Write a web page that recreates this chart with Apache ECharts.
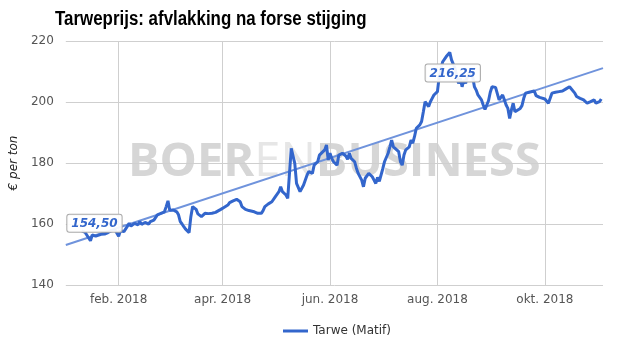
<!DOCTYPE html>
<html><head><meta charset="utf-8">
<script src="https://cdn.jsdelivr.net/npm/echarts@6/dist/echarts.min.js"></script>
<style>html,body{margin:0;padding:0;background:#fff}#c{width:625px;height:355px}</style>
</head><body><div id="c"></div>
<script>
const dates = ['2018-01-11','2018-01-13','2018-01-16','2018-01-17','2018-01-19','2018-01-22','2018-01-24','2018-01-26','2018-01-28','2018-01-30','2018-01-31',
'2018-02-01','2018-02-02','2018-02-04','2018-02-05','2018-02-07','2018-02-08','2018-02-10','2018-02-12','2018-02-13','2018-02-14','2018-02-16','2018-02-18','2018-02-19','2018-02-21','2018-02-23','2018-02-25','2018-02-27','2018-02-28',
'2018-03-01','2018-03-02','2018-03-03','2018-03-04','2018-03-06','2018-03-07','2018-03-08','2018-03-09','2018-03-10','2018-03-11','2018-03-13','2018-03-14','2018-03-15','2018-03-17','2018-03-18','2018-03-20','2018-03-22','2018-03-24','2018-03-26','2018-03-28','2018-03-29','2018-03-31',
'2018-04-02','2018-04-04','2018-04-05','2018-04-07','2018-04-09','2018-04-11','2018-04-12','2018-04-14','2018-04-16','2018-04-17','2018-04-19','2018-04-21','2018-04-23','2018-04-24','2018-04-25','2018-04-27','2018-04-29',
'2018-05-01','2018-05-03','2018-05-04','2018-05-05','2018-05-07','2018-05-08','2018-05-09','2018-05-10','2018-05-12','2018-05-13','2018-05-15','2018-05-16','2018-05-17','2018-05-19','2018-05-20','2018-05-22','2018-05-23','2018-05-25','2018-05-26','2018-05-27','2018-05-29','2018-05-30','2018-05-31',
'2018-06-01','2018-06-02','2018-06-03','2018-06-05','2018-06-06','2018-06-08','2018-06-10','2018-06-11','2018-06-12','2018-06-13','2018-06-15','2018-06-16','2018-06-17','2018-06-19','2018-06-20','2018-06-21','2018-06-23','2018-06-25','2018-06-26','2018-06-27','2018-06-28','2018-06-29',
'2018-07-01','2018-07-02','2018-07-04','2018-07-05','2018-07-06','2018-07-07','2018-07-08','2018-07-10','2018-07-11','2018-07-12','2018-07-13','2018-07-14','2018-07-15','2018-07-16','2018-07-17','2018-07-18','2018-07-19','2018-07-20','2018-07-22','2018-07-23','2018-07-24','2018-07-25','2018-07-26','2018-07-27','2018-07-28','2018-07-29','2018-07-30',
'2018-08-01','2018-08-02','2018-08-03','2018-08-04','2018-08-06','2018-08-08','2018-08-09','2018-08-11','2018-08-12','2018-08-13','2018-08-14','2018-08-15','2018-08-16','2018-08-17','2018-08-18','2018-08-19','2018-08-20','2018-08-21','2018-08-22','2018-08-23','2018-08-24','2018-08-26','2018-08-27','2018-08-28','2018-08-30','2018-08-31',
'2018-09-01','2018-09-03','2018-09-04','2018-09-05','2018-09-07','2018-09-08','2018-09-09','2018-09-10','2018-09-11','2018-09-12','2018-09-13','2018-09-14','2018-09-15','2018-09-17','2018-09-18','2018-09-19','2018-09-20','2018-09-22','2018-09-23','2018-09-25','2018-09-26','2018-09-28','2018-09-29',
'2018-10-01','2018-10-02','2018-10-03','2018-10-04','2018-10-05','2018-10-07','2018-10-09','2018-10-10','2018-10-11','2018-10-13','2018-10-15','2018-10-16','2018-10-18','2018-10-19','2018-10-21','2018-10-23','2018-10-24','2018-10-25','2018-10-27','2018-10-28','2018-10-29','2018-10-30','2018-10-31',
'2018-11-01','2018-11-02'];
const prices = [157.8,157.2,154.5,156.4,156.0,156.6,156.7,157.2,157.8,158.0,158.6,
156.0,157.8,157.5,157.5,160.2,159.3,160.2,159.7,160.8,159.9,160.5,160.0,160.8,161.3,163.0,163.5,164.0,165.7,
167.6,164.5,164.9,164.6,164.0,163.0,160.8,160.0,159.1,158.3,157.2,162.4,165.7,164.8,163.3,162.4,163.5,163.4,163.5,163.8,163.6,164.8,
165.5,166.2,167.0,167.6,168.1,167.3,165.7,164.8,164.4,164.8,164.0,163.5,163.5,164.4,165.7,166.6,167.3,
169.0,170.6,172.2,170.6,169.5,168.4,169.0,184.8,179.9,173.3,170.6,171.1,172.8,176.1,177.2,176.6,179.3,180.4,182.6,183.2,184.3,185.9,181.0,
183.2,181.5,180.4,179.3,182.6,183.2,182.3,181.2,183.2,181.5,180.4,178.3,176.6,174.4,172.2,175.0,176.6,175.5,174.4,173.3,175.3,174.0,
178.2,180.5,183.2,185.3,187.5,185.3,184.8,183.7,180.4,179.3,182.6,184.3,184.3,185.3,187.5,186.5,188.7,191.4,192.5,193.6,196.8,200.1,200.1,198.5,200.1,201.2,202.3,
203.4,208.3,211.0,213.2,214.9,216.25,213.8,211.0,208.3,206.1,207.8,205.0,207.2,206.1,208.3,209.4,210.0,208.3,205.0,203.9,202.3,200.7,199.0,197.6,200.4,203.2,
205.0,204.8,204.3,200.7,202.3,200.7,199.0,197.9,194.6,197.4,199.6,196.8,197.4,197.9,198.8,201.2,202.9,203.2,203.4,203.6,202.1,201.5,201.5,
201.0,201.2,199.6,201.2,202.9,203.2,203.4,203.9,203.6,204.3,205.0,204.8,202.9,201.8,201.2,200.7,201.2,199.6,200.1,200.3,200.7,199.6,199.0,
200.1,201.0];
const trendDates = ['2018-01-02','2018-11-03'];
const trendValues = [153.1, 211.1];
const tickDates = ['2018-02-01','2018-04-01','2018-06-01','2018-08-01','2018-10-01'];
const tickLabels = ['feb. 2018','apr. 2018','jun. 2018','aug. 2018','okt. 2018'];
const seriesName = 'Tarwe (Matif)';
const titleText = 'Tarweprijs: afvlakking na forse stijging';

function ts(s){const p=s.split('-').map(Number);return new Date(p[0],p[1]-1,p[2]).getTime();}
function fmt(v){return v.toFixed(2).replace('.',',');}

const lineData = dates.map((d,i)=>[ts(d),prices[i]]);
const tickTs = tickDates.map(ts);
const labelBase={show:true,formatter:p=>fmt(p.value),color:'#3366cc',fontStyle:'italic',fontWeight:'bold',
  fontFamily:'DejaVu Sans',fontSize:12,backgroundColor:'rgba(255,255,255,0.92)',borderColor:'#aaa',borderWidth:1,borderRadius:2,padding:[3,4,2,4]};

const chart = echarts.init(document.getElementById('c'),null,{renderer:'canvas'});
chart.setOption({
  animation:false,
  backgroundColor:'#fff',
  grid:{left:65,right:22,top:41,bottom:70,containLabel:false},
  legend:{data:[seriesName],left:278,top:320,icon:'rect',itemWidth:25,itemHeight:3,itemGap:8,
    textStyle:{fontFamily:'DejaVu Sans',fontSize:12,color:'#333'}},
  graphic:[
    {type:'text',x:55,y:9,scaleX:0.845,scaleY:1,z:10,silent:true,
      style:{text:titleText,fontFamily:'Liberation Sans',fontWeight:'bold',fontSize:20,fill:'#000'}},
    {type:'text',left:128,top:139,z:0,silent:true,
    style:{text:'{a|BOER}{b|EN}{a|BUSINESS}',rich:{
      a:{fontFamily:'Open Sans',fontWeight:'bold',fontSize:47,fill:'#d6d6d6',color:'#d6d6d6'},
      b:{fontFamily:'Open Sans',fontWeight:'normal',fontSize:47,fill:'#e6e6e6',color:'#e6e6e6'}}}}],
  xAxis:{type:'value',min:ts(trendDates[0]),max:ts(trendDates[1]),
    axisLine:{show:false},
    axisTick:{show:false,customValues:tickTs},
    splitLine:{show:true,lineStyle:{color:'#cfcfcf',width:1}},
    axisLabel:{customValues:tickTs,margin:9,color:'#555',fontFamily:'DejaVu Sans',fontSize:12,
      formatter:v=>{const i=tickTs.indexOf(v);return i>=0?tickLabels[i]:'';}}},
  yAxis:{type:'value',min:140,max:220,interval:20,
    name:'€ per ton',nameLocation:'middle',nameGap:40,
    nameTextStyle:{fontFamily:'DejaVu Sans',fontStyle:'italic',fontSize:12,color:'#222'},
    axisLine:{show:false},axisTick:{show:false},
    splitLine:{lineStyle:{color:'#cfcfcf',width:1}},
    axisLabel:{margin:12,color:'#555',fontFamily:'DejaVu Sans',fontSize:12}},
  series:[
    {name:'trend',type:'line',data:trendDates.map((d,i)=>[ts(d),trendValues[i]]),symbol:'none',
      lineStyle:{color:'#6f93dc',width:2},z:2,silent:true},
    {name:seriesName,type:'line',data:lineData,symbol:'none',showSymbol:false,
      lineStyle:{color:'#3366cc',width:3},itemStyle:{color:'#3366cc'},z:3,
      markPoint:{symbol:'circle',symbolSize:0,silent:true,
        data:[
          {type:'min',valueDim:'y',label:Object.assign({},labelBase,{position:'top',distance:9,offset:[4,0]})},
          {type:'max',valueDim:'y',label:Object.assign({},labelBase,{position:'bottom',distance:12,offset:[3,0]})}
        ]}}
  ]
});
</script></body></html>
